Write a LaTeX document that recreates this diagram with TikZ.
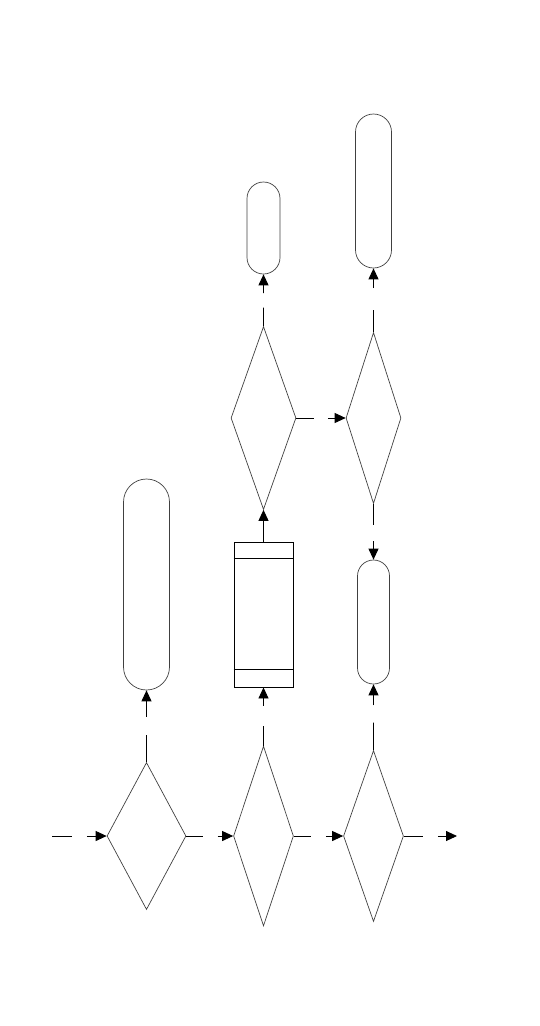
\documentclass[tikz,border=0pt]{standalone}
\usepackage{tikz}
\usetikzlibrary{shapes.geometric, positioning, arrows.meta, calc}

\begin{document}
\begin{tikzpicture}[
    x=1pt, y=-1pt,
    decision/.style={draw=black!75, diamond, inner sep=0pt, line width=0.7pt},
    terminal/.style={draw=black!75, rectangle, inner sep=0pt, line width=0.7pt},
    procbox/.style={draw, rectangle, inner sep=0pt, line width=0.9pt},
    stub/.style={line width=0.9pt},
    arrow/.style={-{Triangle[length=11pt, width=10pt]}, line width=0.9pt}
]
    \useasboundingbox (0,0) rectangle (540,1026);

    % --- Bottom row of decisions ---
    \coordinate (in) at (52,836);
    \node[decision, minimum width=79pt, minimum height=147pt] (d1) at (146.5,836) {};
    \node[decision, minimum width=60pt, minimum height=180pt] (d2) at (263.5,836) {};
    \node[decision, minimum width=60pt, minimum height=171pt] (d3) at (373.5,836) {};
    \coordinate (out) at (457,836);

    % --- Upper decisions ---
    \node[decision, minimum width=65pt, minimum height=183pt] (d4) at (263.5,418) {};
    \node[decision, minimum width=55pt, minimum height=171pt] (d5) at (373.5,418) {};

    % --- Terminals ---
    \node[terminal, minimum width=46pt, minimum height=211pt, rounded corners=23pt] (t1) at (146.5,584.5) {};
    \node[terminal, minimum width=32pt, minimum height=124pt, rounded corners=16pt] (t3) at (373.5,622) {};
    \node[terminal, minimum width=33pt, minimum height=92pt, rounded corners=16.5pt] (t4) at (263.5,228) {};
    \node[terminal, minimum width=36pt, minimum height=154pt, rounded corners=18pt] (t5) at (373.5,191) {};

    % --- Process ---
    \node[procbox, minimum width=59pt, minimum height=145pt] (proc) at (263.5,614.5) {};
    \draw[line width=0.9pt] ($(proc.north west)+(0,17)$) -- ($(proc.north east)+(0,17)$);
    \draw[line width=0.9pt] ($(proc.south west)+(0,-18)$) -- ($(proc.south east)+(0,-18)$);

    % Horizontal flow
    \draw[stub] (in) -- ($(in)!0.36!(d1.west)$);
    \draw[arrow] ($(in)!0.64!(d1.west)$) -- (d1.west);
    \draw[stub] (d1.east) -- ($(d1.east)!0.35!(d2.west)$);
    \draw[arrow] ($(d1.east)!0.67!(d2.west)$) -- (d2.west);
    \draw[stub] (d2.east) -- ($(d2.east)!0.35!(d3.west)$);
    \draw[arrow] ($(d2.east)!0.65!(d3.west)$) -- (d3.west);
    \draw[stub] (d3.east) -- ($(d3.east)!0.36!(out)$);
    \draw[arrow] ($(d3.east)!0.64!(out)$) -- (out);
    \draw[stub] (d4.east) -- ($(d4.east)!0.36!(d5.west)$);
    \draw[arrow] ($(d4.east)!0.64!(d5.west)$) -- (d5.west);

    % Vertical flow
    \draw[stub] (d1.north) -- ($(d1.north)!0.38!(t1.south)$);
    \draw[arrow] ($(d1.north)!0.63!(t1.south)$) -- (t1.south);
    \draw[stub] (d2.north) -- ($(d2.north)!0.34!(proc.south)$);
    \draw[arrow] ($(d2.north)!0.69!(proc.south)$) -- (proc.south);
    \draw[stub] (d3.north) -- ($(d3.north)!0.42!(t3.south)$);
    \draw[arrow] ($(d3.north)!0.68!(t3.south)$) -- (t3.south);
    \draw[arrow] (proc.north) -- (d4.south);
    \draw[stub] (d4.north) -- ($(d4.north)!0.36!(t4.south)$);
    \draw[arrow] ($(d4.north)!0.64!(t4.south)$) -- (t4.south);
    \draw[stub] (d5.north) -- ($(d5.north)!0.34!(t5.south)$);
    \draw[arrow] ($(d5.north)!0.69!(t5.south)$) -- (t5.south);
    \draw[stub] (d5.south) -- ($(d5.south)!0.37!(t3.north)$);
    \draw[arrow] ($(d5.south)!0.67!(t3.north)$) -- (t3.north);

\end{tikzpicture}
\end{document}
